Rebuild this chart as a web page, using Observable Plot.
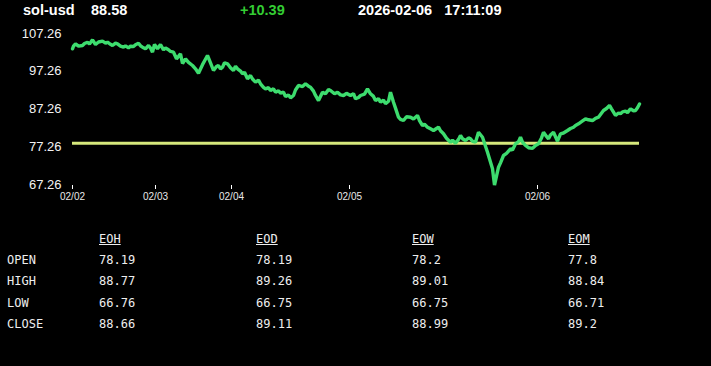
<!DOCTYPE html>
<html>
<head>
<meta charset="utf-8">
<script src="https://cdn.jsdelivr.net/npm/d3@7"></script>
<script src="https://cdn.jsdelivr.net/npm/@observablehq/plot@0.6"></script>
<style>
  html, body { margin: 0; padding: 0; background: #000; }
  #wrap { position: relative; width: 711px; height: 366px; background: #000; overflow: hidden; }
  #chart { position: absolute; left: 0; top: 0; }
  .hdr { position: absolute; top: 2px; font: bold 14.5px "Liberation Sans", Arial, sans-serif; color: #fff; white-space: pre; }
  .tbl { position: absolute; font: 12px "DejaVu Sans Mono", monospace; color: #eee; white-space: pre; line-height: 14px; }
  .tbl.head { text-decoration: underline; }
</style>
</head>
<body>
<div id="wrap"><div id="chart"></div></div>
<script>
// ---- data ----
const symbol = "sol-usd";
const lastPrice = "88.58";
const change = "+10.39";
const stamp = "2026-02-06   17:11:09";
const refLevel = 78.19;

const sampleIdx = [0,1,3,6,10,12,15,17,20,23,26,30,33,35,38,40,43,45,48,51,53,56,58,61,63,66,68,70,73,76,78,80,82,85,88,91,93,96,98,101,104,106,108,110,113,116,120,123,126,130,135,138,141,144,146,148,150,152,155,158,161,163,165,168,170,172,175,178,180,183,186,188,191,193,196,198,201,203,206,208,211,213,216,218,221,223,226,230,233,236,238,241,243,246,250,253,256,258,262,265,268,271,274,278,281,283,286,288,292,295,298,301,303,306,308,311,313,316,318,321,323,326,328,331,334,338,341,345,347,350,352,355,358,361,364,366,368,371,374,378,380,383,386,388,390,393,396,398,400,403,406,410,415,420,422,426,428,431,434,438,440,443,446,448,450,453,456,460,463,466,469,471,474,476,478,481,485,488,491,495,498,501,503,506,509,513,516,520,523,526,528,531,534,537,539,543,546,548,550,553,555,558,561,563,565,567];
const price = [103.21,103.9,104.53,103.9,104.08,104.6,104.96,104.5,105.59,104.35,105.0,105.22,104.7,104.96,104.4,104.08,104.7,104.53,103.9,103.63,104.0,103.47,103.9,103.82,104.3,104.69,104.0,103.63,103.21,104.08,103.4,102.31,104.35,103.21,104.35,102.94,103.4,102.94,102.5,102.31,100.56,101.2,101.88,99.31,100.56,99.6,98.78,97.9,96.74,99.0,101.43,99.5,97.46,98.5,98.78,97.9,98.33,99.5,99.23,98.2,97.46,98.6,97.91,97.3,96.58,97.0,95.26,96.13,95.2,94.36,94.9,93.94,93.0,92.61,92.9,92.16,92.6,91.71,92.1,91.45,91.7,90.57,91.0,90.23,90.84,92.3,93.49,93.2,93.94,93.3,93.03,92.0,90.84,89.51,91.71,91.29,92.4,92.16,91.3,91.71,91.0,90.84,91.4,90.84,91.3,89.96,90.3,90.84,91.2,92.61,91.29,90.6,89.51,90.0,89.06,89.6,88.64,89.3,91.71,89.06,87.5,85.09,84.5,84.21,85.2,85.09,84.6,85.54,84.2,82.89,83.2,82.44,82.0,81.56,82.1,82.44,81.5,80.69,79.5,78.46,79.0,78.2,79.2,80.24,79.4,78.92,79.6,79.37,78.7,78.46,81.11,79.79,75.82,71.42,67.1,71.84,73.0,74.94,75.5,76.72,76.4,78.04,78.6,79.79,78.5,77.59,77.0,76.82,77.6,78.04,79.6,81.11,80.0,79.37,80.4,81.11,78.73,80.69,80.9,81.56,82.1,82.44,82.9,83.34,83.9,84.66,84.4,84.21,84.8,85.09,85.8,86.86,87.4,88.19,87.3,85.54,86.2,85.99,86.5,86.68,86.3,87.31,86.8,86.86,87.6,88.58];

const dayTickIdx = [0, 83, 159, 277, 465];
const dayTickLabels = ["02/02", "02/03", "02/04", "02/05", "02/06"];
const yTicks = [67.26, 77.26, 87.26, 97.26, 107.26];

const rowLabels = ["OPEN", "HIGH", "LOW", "CLOSE"];
const colLabels = ["EOH", "EOD", "EOW", "EOM"];
const colEOH = ["78.19", "88.77", "66.76", "88.66"];
const colEOD = ["78.19", "89.26", "66.75", "89.11"];
const colEOW = ["78.2", "89.01", "66.75", "88.99"];
const colEOM = ["77.8", "88.84", "66.71", "89.2"];

// ---- chart ----
const series = sampleIdx.map((i, k) => ({i, v: price[k]}));
const dayLabel = new Map(dayTickIdx.map((d, k) => [d, dayTickLabels[k]]));

const chart = Plot.plot({
  width: 711,
  height: 210,
  marginLeft: 72,
  marginRight: 72,
  marginTop: 33,
  marginBottom: 26,
  style: {background: "#000", color: "#fff", fontFamily: "'Liberation Sans', Arial, sans-serif"},
  x: {domain: [0, 567]},
  y: {domain: [67.26, 107.26]},
  marks: [
    Plot.axisY({ticks: yTicks, tickSize: 0, tickPadding: 11, fontSize: 13, tickFormat: d => d.toFixed(2), label: null, fill: "#f2f2f2"}),
    Plot.axisX({ticks: dayTickIdx, tickSize: 4, tickPadding: 3, fontSize: 10, tickFormat: d => dayLabel.get(d), label: null, stroke: "#fff", fill: "#e8e8e8", dy: 1}),
    Plot.ruleY([refLevel], {x1: 0, x2: 567, stroke: "#d6e87c", strokeWidth: 3}),
    Plot.line(series, {x: "i", y: "v", stroke: "#3ddc6e", strokeWidth: 3.4, strokeLinejoin: "miter"})
  ]
});
document.getElementById("chart").appendChild(chart);

// ---- header ----
const wrap = document.getElementById("wrap");
function addText(cls, txt, x, y, color) {
  const d = document.createElement("div");
  d.className = cls;
  d.textContent = txt;
  d.style.left = x + "px";
  if (y !== null) d.style.top = y + "px";
  if (color) d.style.color = color;
  wrap.appendChild(d);
}
addText("hdr", symbol, 23, null);
addText("hdr", lastPrice, 91, null);
addText("hdr", change, 240, null, "#33cc33");
addText("hdr", stamp, 358, null);

// ---- table ----
const colX = [99, 256, 412, 568];
const rowY = [253, 274, 296, 317];
const cols = [colEOH, colEOD, colEOW, colEOM];
colLabels.forEach((c, k) => addText("tbl head", c, colX[k], 232));
rowLabels.forEach((r, j) => {
  addText("tbl", r, 7, rowY[j]);
  cols.forEach((col, k) => addText("tbl", col[j], colX[k], rowY[j]));
});
</script>
</body>
</html>
